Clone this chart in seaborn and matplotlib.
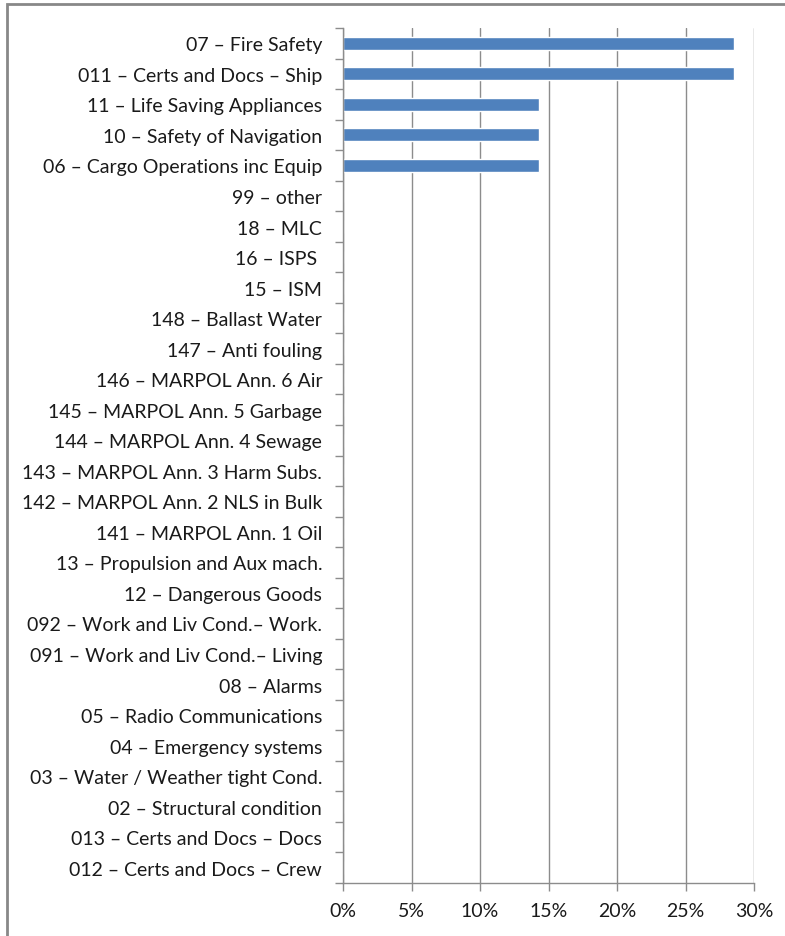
import pandas as pd
import seaborn as sns
import matplotlib.pyplot as plt
from matplotlib.patches import Rectangle
from matplotlib.ticker import FixedLocator, PercentFormatter

categories = [
    "07 – Fire Safety",
    "011 – Certs and Docs – Ship",
    "11 – Life Saving Appliances",
    "10 – Safety of Navigation",
    "06 – Cargo Operations inc Equip",
    "99 – other",
    "18 – MLC",
    "16 – ISPS ",
    "15 – ISM",
    "148 – Ballast Water",
    "147 – Anti fouling",
    "146 – MARPOL Ann. 6 Air",
    "145 – MARPOL Ann. 5 Garbage",
    "144 – MARPOL Ann. 4 Sewage",
    "143 – MARPOL Ann. 3 Harm Subs.",
    "142 – MARPOL Ann. 2 NLS in Bulk",
    "141 – MARPOL Ann. 1 Oil",
    "13 – Propulsion and Aux mach.",
    "12 – Dangerous Goods",
    "092 – Work and Liv Cond.– Work.",
    "091 – Work and Liv Cond.– Living",
    "08 – Alarms",
    "05 – Radio Communications",
    "04 – Emergency systems",
    "03 – Water / Weather tight Cond.",
    "02 – Structural condition",
    "013 – Certs and Docs – Docs",
    "012 – Certs and Docs – Crew",
]
share = [28.57, 28.57, 14.29, 14.29, 14.29] + [0.0] * 23

df = pd.DataFrame({"Category": categories, "Share": share})

sns.set_style("white")
plt.rcParams["font.family"] = ["Lato", "DejaVu Sans"]

fig = plt.figure(figsize=(7.85, 9.37), dpi=100)
ax = fig.add_axes([0.437, 0.0566, 0.5235, 0.9124])

sns.barplot(data=df, x="Share", y="Category", orient="h", color="#4F81BD",
            width=0.42, saturation=1, ax=ax)

grey = "#8C8C8C"
n = len(categories)
ax.set_xlim(0, 30)
ax.set_ylim(n - 0.5, -0.5)
ax.set_xticks(range(0, 31, 5))
ax.xaxis.set_major_formatter(PercentFormatter(decimals=0))
ax.xaxis.grid(True, color=grey, linewidth=1)
ax.set_axisbelow(True)

ax.yaxis.set_minor_locator(FixedLocator([i - 0.5 for i in range(n + 1)]))
ax.tick_params(axis="y", which="major", left=False, length=0, pad=15,
               labelsize=14, labelcolor="#1a1a1a")
ax.tick_params(axis="y", which="minor", left=True, length=6, color=grey, width=1)
ax.tick_params(axis="x", which="major", bottom=True, length=6, color=grey, width=1,
               pad=8, labelsize=14, labelcolor="#1a1a1a")

for side in ["top", "right"]:
    ax.spines[side].set_visible(False)
for side in ["left", "bottom"]:
    ax.spines[side].set_color(grey)
    ax.spines[side].set_linewidth(1)

ax.set_xlabel("")
ax.set_ylabel("")

fig.patches.append(Rectangle((7 / 785, -0.1), 1.2, 1 - 5 / 937 + 0.1,
                             transform=fig.transFigure, fill=False,
                             edgecolor="#888888", linewidth=2))

fig.savefig("out.png", dpi=100)
